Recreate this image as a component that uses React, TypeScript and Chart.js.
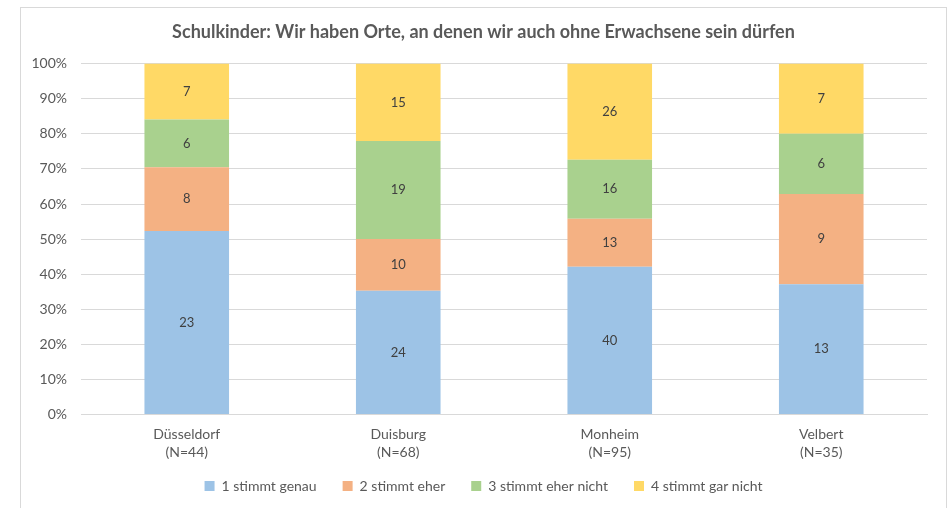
import React, { useEffect, useRef } from "react";
import { Chart, registerables } from "chart.js";

Chart.register(...registerables);

const titleText = "Schulkinder: Wir haben Orte, an denen wir auch ohne Erwachsene sein dürfen";
const cities = ["Düsseldorf", "Duisburg", "Monheim", "Velbert"];
const sampleSizes = ["(N=44)", "(N=68)", "(N=95)", "(N=35)"];
const seriesNames = ["1 stimmt genau", "2 stimmt eher", "3 stimmt eher nicht", "4 stimmt gar nicht"];
const stimmtGenau = [23, 24, 40, 13];
const stimmtEher = [8, 10, 13, 9];
const eherNicht = [6, 19, 16, 6];
const garNicht = [7, 15, 26, 7];
const colors = ["#9DC3E6", "#F4B183", "#A9D18E", "#FFD966"];

const FONT = "Lato, 'Open Sans', sans-serif";
const TEXT = "#595959";
const LEGEND_SHIFT = 12;

export default function App() {
  const ref = useRef<HTMLCanvasElement>(null);
  useEffect(() => {
    const counts = [stimmtGenau, stimmtEher, eherNicht, garNicht];
    const totals = cities.map((_, i) => counts.reduce((s, a) => s + a[i], 0));
    const frame = {
      id: "frame",
      beforeDraw(chart: any) {
        const c = chart.ctx;
        c.save();
        c.fillStyle = "#fff";
        c.fillRect(0, 0, chart.width, chart.height);
        c.strokeStyle = "#d9d9d9";
        c.lineWidth = 1;
        c.strokeRect(20.5, 7.5, 926, 520);
        c.restore();
      },
    };
    const legendTighten = {
      id: "legendTighten",
      beforeLayout(chart: any) {
        const lg = chart.legend;
        if (lg && !lg._tight) {
          lg._tight = true;
          const fit = lg.fit.bind(lg);
          lg.fit = function () {
            fit();
            this.height -= LEGEND_SHIFT;
          };
          const draw = lg.draw.bind(lg);
          lg.draw = function (area: any) {
            this.top -= LEGEND_SHIFT;
            draw(area);
            this.top += LEGEND_SHIFT;
          };
        }
      },
      afterLayout(chart: any) {
        if (chart.titleBlock) chart.titleBlock.right = 947;
        if (chart.legend) chart.legend.right = 947;
      },
    };
    const labelsPlugin = {
      id: "vals",
      afterDatasetsDraw(chart: any) {
        const c = chart.ctx;
        c.save();
        c.font = `13px ${FONT}`;
        c.fillStyle = "#404040";
        c.textAlign = "center";
        c.textBaseline = "middle";
        chart.data.datasets.forEach((ds: any, di: number) => {
          const meta = chart.getDatasetMeta(di);
          meta.data.forEach((bar: any, i: number) => {
            const y = (bar.y + bar.base) / 2;
            c.fillText(String(counts[di][i]), bar.x, y);
          });
        });
        c.restore();
      },
    };
    const chart = new Chart(ref.current!, {
      type: "bar",
      data: {
        labels: cities.map((c, i) => [c, sampleSizes[i]]),
        datasets: counts.map((arr, di) => ({
          label: seriesNames[di],
          data: arr.map((v, i) => (v / totals[i]) * 100),
          backgroundColor: colors[di],
          borderWidth: 0,
          barPercentage: 0.4,
          categoryPercentage: 1,
        })),
      },
      options: {
        responsive: false,
        animation: false,
        layout: { padding: { left: 20, right: 21, top: 16, bottom: 5 } },
        plugins: {
          title: {
            display: true,
            text: titleText,
            color: TEXT,
            font: { family: FONT, size: 18, weight: "bold" },
            padding: { top: 5, bottom: 21 },
          },
          legend: {
            position: "bottom",
            labels: {
              color: TEXT,
              font: { family: FONT, size: 14 },
              boxWidth: 10,
              boxHeight: 10,
              padding: 26,
            },
          },
          tooltip: { enabled: false },
        },
        scales: {
          x: {
            stacked: true,
            grid: { display: false },
            border: { color: "#d9d9d9" },
            ticks: { color: TEXT, font: { family: FONT, size: 14, lineHeight: 1.3 }, padding: 3 },
          },
          y: {
            stacked: true,
            min: 0,
            max: 100,
            grid: { color: "#d9d9d9", drawTicks: false },
            border: { display: false },
            afterFit(scale: any) {
              scale.width = 61;
            },
            ticks: {
              stepSize: 10,
              color: TEXT,
              font: { family: FONT, size: 14 },
              padding: 14,
              callback: (v: any) => v + "%",
            },
          },
        },
      },
      plugins: [frame, legendTighten, labelsPlugin],
    });
    return () => chart.destroy();
  }, []);
  return (
    <canvas
      ref={ref}
      width={948}
      height={508}
      style={{ position: "absolute", left: 0, top: 0, width: 948, height: 508 }}
    />
  );
}
